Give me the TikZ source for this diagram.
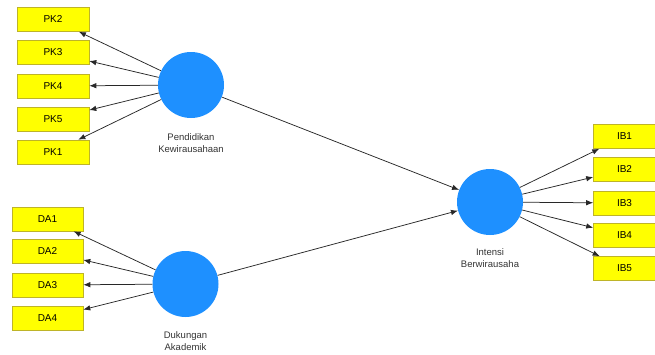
\documentclass[tikz,border=0pt]{standalone}
\usepackage{fontspec}
\setmainfont{Liberation Sans}
\usetikzlibrary{arrows.meta}
\definecolor{lvblue}{RGB}{30,144,255}
\definecolor{mvyellow}{RGB}{255,255,0}
\definecolor{mvedge}{RGB}{190,180,40}
\definecolor{arrowgrey}{RGB}{40,40,40}
\tikzset{
  mv/.style={draw=mvedge, fill=mvyellow, line width=0.6pt, minimum height=24pt, inner sep=0pt, font=\fontsize{10}{12}\selectfont},
  lv/.style={circle, fill=lvblue, draw=none, minimum size=66pt, inner sep=0pt},
  lvlabel/.style={align=center, font=\fontsize{9.5}{11.5}\selectfont, text=black!80},
  conn/.style={draw=arrowgrey, line width=0.75pt, -{Latex[length=7pt,width=5.5pt]}},
}
\begin{document}
\begin{tikzpicture}[x=1pt,y=-1pt]
\useasboundingbox (0,0) rectangle (655,354);
% latent variables
\node[lv] (PKW) at (191,85) {};
\node[lv] (DA) at (185.5,284) {};
\node[lv] (IB) at (490,202) {};
\node[lvlabel] (PKWl) at (191,143) {Pendidikan\\Kewirausahaan};
\node[lvlabel] (DAl) at (185.5,341) {Dukungan\\Akademik};
\node[lvlabel] (IBl) at (490,258) {Intensi\\Berwirausaha};
% PK indicators
\node[mv, minimum width=72pt] (PK2) at (53,19.5) {PK2};
\node[mv, minimum width=72pt] (PK3) at (53,52.5) {PK3};
\node[mv, minimum width=72pt] (PK4) at (53,86) {PK4};
\node[mv, minimum width=72pt] (PK5) at (53,119) {PK5};
\node[mv, minimum width=72pt] (PK1) at (53,152) {PK1};
% DA indicators
\node[mv, minimum width=71pt] (DA1) at (47.5,219) {DA1};
\node[mv, minimum width=71pt] (DA2) at (47.5,251.5) {DA2};
\node[mv, minimum width=71pt] (DA3) at (47.5,285) {DA3};
\node[mv, minimum width=71pt] (DA4) at (47.5,318.5) {DA4};
% IB indicators
\node[mv, minimum width=62pt] (IB1) at (624.5,136.5) {IB1};
\node[mv, minimum width=62pt] (IB2) at (624.5,169.5) {IB2};
\node[mv, minimum width=62pt] (IB3) at (624.5,203) {IB3};
\node[mv, minimum width=62pt] (IB4) at (624.5,235.5) {IB4};
\node[mv, minimum width=62pt] (IB5) at (624.5,268.5) {IB5};
% connectors
\foreach \t in {PK2,PK3,PK4,PK5,PK1} \draw[conn] (PKW) -- (\t);
\foreach \t in {DA1,DA2,DA3,DA4} \draw[conn] (DA) -- (\t);
\foreach \t in {IB1,IB2,IB3,IB4,IB5} \draw[conn] (IB) -- (\t);
\draw[conn] (PKW) -- (IB);
\draw[conn] (DA) -- (IB);
\end{tikzpicture}
\end{document}
